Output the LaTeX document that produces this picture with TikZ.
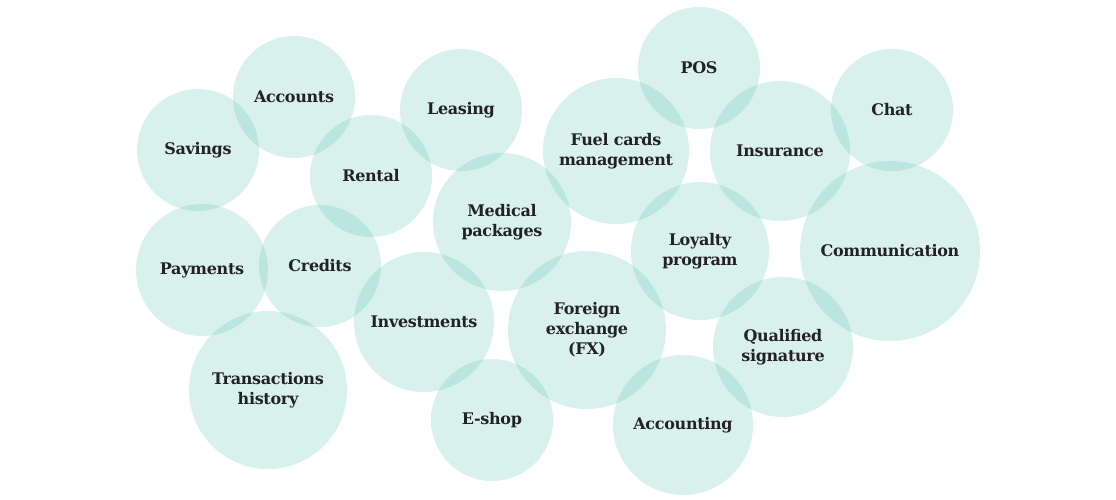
\documentclass[tikz,border=0pt]{standalone}
\usepackage{fontspec}
\setmainfont{DejaVu Serif}
\definecolor{teal}{RGB}{65,185,160}
\definecolor{txt}{RGB}{34,34,34}
\begin{document}
\begin{tikzpicture}[x=1pt,y=-1pt,
  bub/.style={circle,fill=teal,fill opacity=0.2,text opacity=1,text=txt,align=center,inner sep=0pt,
    font=\fontsize{16}{20}\selectfont\bfseries\addfontfeature{LetterSpace=-2}}]
\useasboundingbox (0,0) rectangle (1116,500);
\node[bub,minimum size=122] (acc) at (294,97) {Accounts};
\node[bub,minimum size=122] (sav) at (198,150) {Savings};
\node[bub,minimum size=122] (lea) at (461,110) {Leasing};
\node[bub,minimum size=122] (ren) at (371,176) {Rental};
\node[bub,minimum size=138] (med) at (502,222) {Medical\\packages};
\node[bub,minimum size=146] (fuel) at (616,151) {Fuel cards\\management};
\node[bub,minimum size=122] (pos) at (699,68) {POS};
\node[bub,minimum size=140] (ins) at (780,151) {Insurance};
\node[bub,minimum size=122] (chat) at (892,110) {Chat};
\node[bub,minimum size=180] (com) at (890,251) {Communication};
\node[bub,minimum size=138] (loy) at (700,251) {Loyalty\\program};
\node[bub,minimum size=132] (pay) at (202,270) {Payments};
\node[bub,minimum size=122] (cre) at (320,266) {Credits};
\node[bub,minimum size=140] (inv) at (424,322) {Investments};
\node[bub,minimum size=158] (fx) at (587,330) {Foreign\\exchange\\(FX)};
\node[bub,minimum size=140] (qs) at (783,347) {Qualified\\signature};
\node[bub,minimum size=158] (th) at (268,390) {Transactions\\history};
\node[bub,minimum size=122] (es) at (492,420) {E-shop};
\node[bub,minimum size=140] (act) at (683,425) {Accounting};
\end{tikzpicture}
\end{document}
